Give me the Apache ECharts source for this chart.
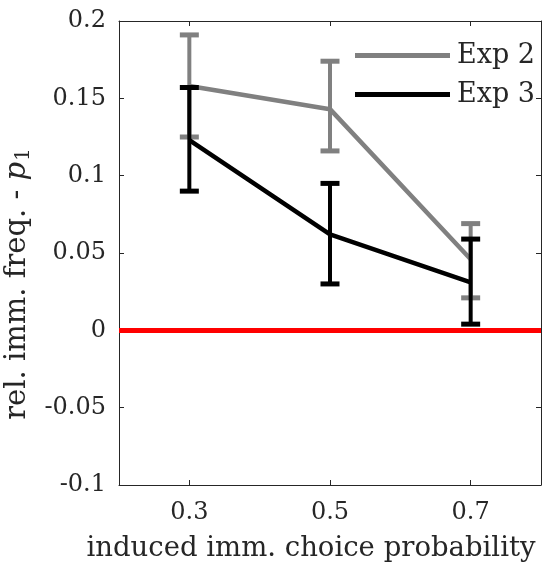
<!DOCTYPE html>
<html>
<head>
<meta charset="utf-8">
<script src="https://cdn.jsdelivr.net/npm/echarts@6/dist/echarts.min.js"></script>
<style>
  html, body { margin: 0; padding: 0; background: #fff; }
  #main { width: 543px; height: 568px; }
</style>
</head>
<body>
<div id="main"></div>
<script>
// data
var probs = [0.3, 0.5, 0.7];
var exp2Mean = [0.158, 0.143, 0.046];
var exp2Low = [0.125, 0.116, 0.021];
var exp2High = [0.191, 0.174, 0.069];
var exp3Mean = [0.123, 0.062, 0.031];
var exp3Low = [0.090, 0.030, 0.004];
var exp3High = [0.157, 0.095, 0.059];
var xTicks = [0.3, 0.5, 0.7];

var font = "DejaVu Serif";
var txt = "#262626";

function pairs(xs, ys) {
  return xs.map(function (x, i) { return [x, ys[i]]; });
}
function errData(xs, lo, hi) {
  return xs.map(function (x, i) { return [x, lo[i], hi[i]]; });
}
function errSeries(name, data, color, z) {
  return {
    name: name,
    type: "custom",
    z: z,
    silent: true,
    data: data,
    encode: { x: 0, y: [1, 2] },
    renderItem: function (params, api) {
      var x = api.value(0);
      var lo = api.coord([x, api.value(1)]);
      var hi = api.coord([x, api.value(2)]);
      var w = 9.5;
      var st = { stroke: color, lineWidth: 4 };
      var cap = { stroke: color, lineWidth: 5 };
      return {
        type: "group",
        children: [
          { type: "line", shape: { x1: lo[0], y1: lo[1], x2: hi[0], y2: hi[1] }, style: st },
          { type: "line", shape: { x1: lo[0] - w, y1: lo[1], x2: lo[0] + w, y2: lo[1] }, style: cap },
          { type: "line", shape: { x1: hi[0] - w, y1: hi[1], x2: hi[0] + w, y2: hi[1] }, style: cap }
        ]
      };
    }
  };
}

var myChart = echarts.init(document.getElementById("main"));
var axisLine = { show: true, onZero: false, lineStyle: { color: "#262626", width: 1 } };
var tick = { show: true, inside: true, length: 5, lineStyle: { color: "#262626" } };

myChart.setOption({
  animation: false,
  backgroundColor: "#fff",
  grid: { left: 119, top: 21, right: 2, bottom: 83, outerBoundsMode: "none", containLabel: false },
  legend: {
    orient: "vertical",
    left: 350,
    top: 37,
    icon: "rect",
    itemWidth: 95,
    itemHeight: 5,
    itemGap: 12,
    data: ["Exp 2", "Exp 3"],
    textStyle: { fontFamily: font, fontSize: 27, color: txt, padding: [0, 0, 0, 2] }
  },
  xAxis: [
    {
      type: "value", min: 0.2, max: 0.8, position: "bottom",
      axisLine: axisLine,
      axisTick: Object.assign({ customValues: xTicks }, tick),
      axisLabel: {
        customValues: xTicks, margin: 16, color: txt, fontFamily: font, fontSize: 24,
        formatter: function (v) { return v.toFixed(1); }
      },
      splitLine: { show: false },
      name: "induced imm. choice probability",
      nameLocation: "middle",
      nameGap: 50,
      nameTextStyle: { fontFamily: font, fontSize: 27.5, color: txt, padding: [0, 38, 0, 0] }
    },
    {
      type: "value", min: 0.2, max: 0.8, position: "top",
      axisLine: axisLine,
      axisTick: Object.assign({ customValues: xTicks }, tick),
      axisLabel: { show: false },
      splitLine: { show: false }
    }
  ],
  yAxis: [
    {
      type: "value", min: -0.1, max: 0.2, interval: 0.05, position: "left",
      axisLine: axisLine,
      axisTick: tick,
      axisLabel: {
        margin: 13, color: txt, fontFamily: font, fontSize: 24,
        formatter: function (v) { return String(+v.toFixed(2)); }
      },
      splitLine: { show: false },
      name: "rel. imm. freq. - {p|p}{s|1}",
      nameLocation: "middle",
      nameGap: 80,
      nameTextStyle: {
        fontFamily: font, fontSize: 29, color: txt, padding: [0, 62, 0, 0],
        rich: {
          p: { fontFamily: font, fontSize: 29, fontStyle: "italic", color: txt },
          s: { fontFamily: font, fontSize: 20, color: txt, verticalAlign: "bottom", padding: [13, 0, 0, 1] }
        }
      }
    },
    {
      type: "value", min: -0.1, max: 0.2, interval: 0.05, position: "right",
      axisLine: axisLine,
      axisTick: tick,
      axisLabel: { show: false },
      splitLine: { show: false }
    }
  ],
  series: [
    {
      name: "Exp 2", type: "line", z: 2, data: pairs(probs, exp2Mean),
      showSymbol: false, color: "#808080", lineStyle: { width: 4.5, color: "#808080" }
    },
    errSeries("Exp 2", errData(probs, exp2Low, exp2High), "#808080", 2),
    {
      name: "Exp 3", type: "line", z: 3, data: pairs(probs, exp3Mean),
      showSymbol: false, color: "#000", lineStyle: { width: 4.5, color: "#000" }
    },
    errSeries("Exp 3", errData(probs, exp3Low, exp3High), "#000", 3),
    {
      name: "zero", type: "line", z: 5, data: [],
      markLine: {
        silent: true, symbol: "none", label: { show: false },
        lineStyle: { color: "#ff0000", width: 5, type: "solid" },
        data: [{ yAxis: 0 }]
      }
    }
  ]
});
</script>
</body>
</html>
